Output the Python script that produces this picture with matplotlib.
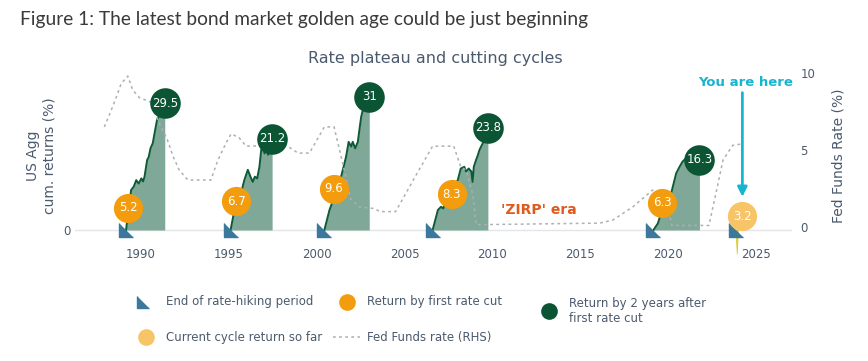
import matplotlib
matplotlib.use('Agg')
import matplotlib.pyplot as plt
from matplotlib.lines import Line2D

# cycles: end of hiking, first cut, 2y after first cut
hike_end = [1989.18, 1995.12, 2000.45, 2006.6, 2019.15, 2023.86]
first_cut = [1989.3, 1995.45, 2001.0, 2007.7, 2019.66]
two_years = [1991.38, 1997.48, 2003.0, 2009.74, 2021.76]
ret_first_cut = [5.2, 6.7, 9.6, 8.3, 6.3]
ret_two_years = [29.5, 21.2, 31, 23.8, 16.3]
current_x = 2024.2
current_ret = 3.2

# cumulative US Agg return paths
c1_x = [1989.18, 1989.32, 1989.47, 1989.62, 1989.76, 1989.9, 1990.05, 1990.15, 1990.23, 1990.38,
        1990.47, 1990.57, 1990.7, 1990.8, 1990.94, 1991.08, 1991.38]
c1_y = [0, 4.65, 9.3, 10.1, 11.6, 10.8, 12.0, 11.3, 12.4, 16.3, 17.0, 19.0, 20.2, 22.5, 25.6, 26.7, 26.5]
c2_x = [1995.12, 1995.34, 1995.62, 1995.9, 1996.1, 1996.25, 1996.38, 1996.5, 1996.63, 1996.76,
        1996.86, 1996.95, 1997.05, 1997.14, 1997.25, 1997.33, 1997.48]
c2_y = [0, 4.65, 7.0, 11.6, 14.0, 12.4, 11.2, 12.4, 12.0, 14.7, 18.6, 19.4, 17.8, 19.4, 17.5, 19.0, 19.4]
c3_x = [2000.45, 2000.74, 2001.02, 2001.3, 2001.5, 2001.68, 2001.83, 2001.97, 2002.06, 2002.2,
        2002.35, 2002.44, 2002.54, 2002.67, 2003.0]
c3_y = [0, 4.65, 7.75, 10.9, 14.0, 17.0, 20.5, 19.4, 20.5, 19.0, 20.5, 23.3, 26.3, 28.5, 28.5]
c4_x = [2006.6, 2006.9, 2007.08, 2007.2, 2007.46, 2007.74, 2008.03, 2008.2, 2008.4, 2008.5,
        2008.65, 2008.8, 2008.87, 2008.94, 2009.07, 2009.17, 2009.26, 2009.45, 2009.6, 2009.74]
c4_y = [0, 4.65, 5.4, 5.0, 7.75, 10.0, 11.6, 14.3, 14.7, 13.6, 14.3, 13.6, 11.2, 14.7, 16.3,
        17.4, 18.6, 20.2, 20.9, 20.9]
c5_x = [2019.15, 2019.4, 2019.58, 2019.77, 2020.06, 2020.25, 2020.44, 2020.63, 2020.8, 2021.0,
        2021.3, 2021.76]
c5_y = [0, 1.55, 3.9, 5.4, 7.0, 10.1, 13.2, 14.7, 15.9, 16.7, 16.9, 16.3]
c6_x = [2023.8, 2023.85, 2023.88, 2023.91, 2023.96]
c6_y = [0, -3.0, -5.5, -3.0, 0]

# Fed funds rate (RHS)
ffr_x = [1987.95, 1988.52, 1988.9, 1989.28, 1989.56, 1989.94, 1990.6, 1991.0, 1991.5, 1991.85,
         1992.2, 1992.7, 1994.0, 1994.4, 1994.86, 1995.15, 1995.6, 1996.0, 1998.3, 1998.95,
         1999.6, 2000.45, 2001.0, 2001.5, 2001.95, 2002.44, 2003.3, 2003.6, 2004.5, 2005.5,
         2006.6, 2007.8, 2008.2, 2008.5, 2008.9, 2009.07, 2016.08, 2016.84, 2017.97, 2019.1,
         2019.5, 2019.9, 2020.2, 2022.3, 2022.7, 2023.1, 2023.65, 2024.2]
ffr_y = [6.5, 8.1, 9.3, 9.8, 8.9, 8.4, 8.1, 6.9, 5.75, 4.6, 3.7, 3.05, 3.05, 4.35, 5.45, 6.05,
         5.8, 5.25, 5.3, 4.8, 4.8, 6.5, 6.5, 4.1, 1.8, 1.3, 1.2, 1.0, 1.0, 3.05, 5.25, 5.25,
         3.9, 3.7, 2.0, 0.15, 0.25, 0.45, 1.3, 2.4, 2.2, 1.6, 0.1, 0.1, 2.2, 4.35, 5.3, 5.4]

area_fill = '#80a898'
area_line = '#0d5a36'
dark_green = '#0b5434'
orange = '#f39c0e'
light_orange = '#f8c468'
tri_blue = '#3c779c'
ffr_grey = '#aab0b7'
txt = '#4b5a6e'

tri = [(-1, 1), (-1, -1), (1, -1)]

fig = plt.figure(figsize=(8.68, 3.61), dpi=100)
ax = fig.add_axes([75 / 868, 1 - 244 / 361, 717 / 868, 176 / 361])
ax2 = ax.twinx()
ax3 = ax.twinx()

x0, x1 = 1986.28, 2027.02
y_lo, y_hi = -14 / 4.3, (230 - 68) / 4.3

# areas
ax.axhline(0, color='#e3e5e8', lw=1, zorder=0)
for cx, cy in [(c1_x, c1_y), (c2_x, c2_y), (c3_x, c3_y), (c4_x, c4_y), (c5_x, c5_y)]:
    ax.fill_between(cx, 0, cy, color=area_fill, lw=0, zorder=1)
    ax.plot(cx[:-1], cy[:-1], color=area_line, lw=1.4, zorder=2)
ax.fill_between(c6_x, 0, c6_y, color='#e6d52a', lw=0.5, edgecolor='#d9c820', zorder=1, clip_on=False)
ax.set_xlim(x0, x1)
ax.set_ylim(y_lo, y_hi)
ax.set_yticks([0])
ax.set_xticks([1990, 1995, 2000, 2005, 2010, 2015, 2020, 2025])
ax.tick_params(axis='both', length=0, labelsize=8.5, labelcolor=txt)
ax.tick_params(axis='x', pad=3)
ax.tick_params(axis='y', pad=3)
for s in ax.spines.values():
    s.set_visible(False)
ax.set_ylabel('US Agg\ncum. returns (%)', fontsize=10, color=txt, labelpad=5)

# fed funds rate
ax2.plot(ffr_x, ffr_y, color=ffr_grey, lw=1.1, linestyle=(0, (1.8, 2.2)), zorder=3)
ax2.set_ylim(-17 / 15.4, (227 - 68) / 15.4)
ax2.set_yticks([0, 5, 10])
ax2.tick_params(axis='y', length=0, labelsize=8.5, labelcolor=txt, pad=6)
for s in ax2.spines.values():
    s.set_visible(False)
ax2.set_ylabel('Fed Funds Rate (%)', fontsize=10, color=txt, labelpad=12)

# markers
ax3.set_ylim(y_lo, y_hi)
ax3.set_xlim(x0, x1)
ax3.axis('off')
ax3.plot(hike_end, [0] * len(hike_end), linestyle='none', marker=tri, ms=9.5,
         color=tri_blue, zorder=4, clip_on=False)
ax3.plot(first_cut, ret_first_cut, linestyle='none', marker='o', ms=21, color=orange,
         mec='none', zorder=5)
ax3.plot(two_years, ret_two_years, linestyle='none', marker='o', ms=22, color=dark_green,
         mec='none', zorder=5)
ax3.plot([current_x], [current_ret], linestyle='none', marker='o', ms=21, color=light_orange,
         mec='none', zorder=5)
for xv, yv in zip(first_cut + two_years + [current_x], ret_first_cut + ret_two_years + [current_ret]):
    ax3.text(xv, yv, f'{yv:g}', color='white', fontsize=8.5, ha='center', va='center', zorder=6)

ax3.annotate('', xy=(current_x, current_ret), xytext=(0, 89), textcoords='offset points',
             arrowprops=dict(arrowstyle='-|>', color='#16b6d0', lw=2, mutation_scale=14,
                             shrinkA=0, shrinkB=14))
ax3.annotate('You are here', xy=(current_x, current_ret), xytext=(2, 96),
             textcoords='offset points', ha='center', va='center', color='#16b6d0',
             fontsize=9.5, fontweight='bold')
ax3.text(2012.65, 4.65, "'ZIRP' era", color='#e05a1e', fontsize=10, fontweight='bold',
         ha='center', va='center')

# titles
fig.text(20 / 868, 1 - 20 / 361, 'Figure 1: The latest bond market golden age could be just beginning',
         fontsize=13.8, family='Lato', color='#3a3a3a', ha='left', va='center')
fig.text(435 / 868, 1 - 58 / 361, 'Rate plateau and cutting cycles', fontsize=11.5,
         color=txt, ha='center', va='center')

# legend
def leg_marker(px, py, **kw):
    fig.add_artist(Line2D([px / 868], [1 - py / 361], transform=fig.transFigure, linestyle='none', **kw))

def leg_text(px, py, s):
    fig.text(px / 868, 1 - py / 361, s, fontsize=8.5, color=txt, ha='left', va='center',
             linespacing=1.3)

leg_marker(143, 302, marker=tri, ms=9, color=tri_blue)
leg_text(166, 302, 'End of rate-hiking period')
leg_marker(347, 302, marker='o', ms=12, color=orange, mec='none')
leg_text(367, 302, 'Return by first rate cut')
leg_marker(549, 311, marker='o', ms=12, color=dark_green, mec='none')
leg_text(569, 311, 'Return by 2 years after\nfirst rate cut')
leg_marker(146, 337, marker='o', ms=12, color=light_orange, mec='none')
leg_text(166, 337, 'Current cycle return so far')
fig.add_artist(Line2D([333 / 868, 360 / 868], [1 - 337 / 361] * 2, transform=fig.transFigure,
                      color=ffr_grey, lw=1.1, linestyle=(0, (1.8, 2.2))))
leg_text(367, 337, 'Fed Funds rate (RHS)')

fig.savefig('out.png', dpi=100)
